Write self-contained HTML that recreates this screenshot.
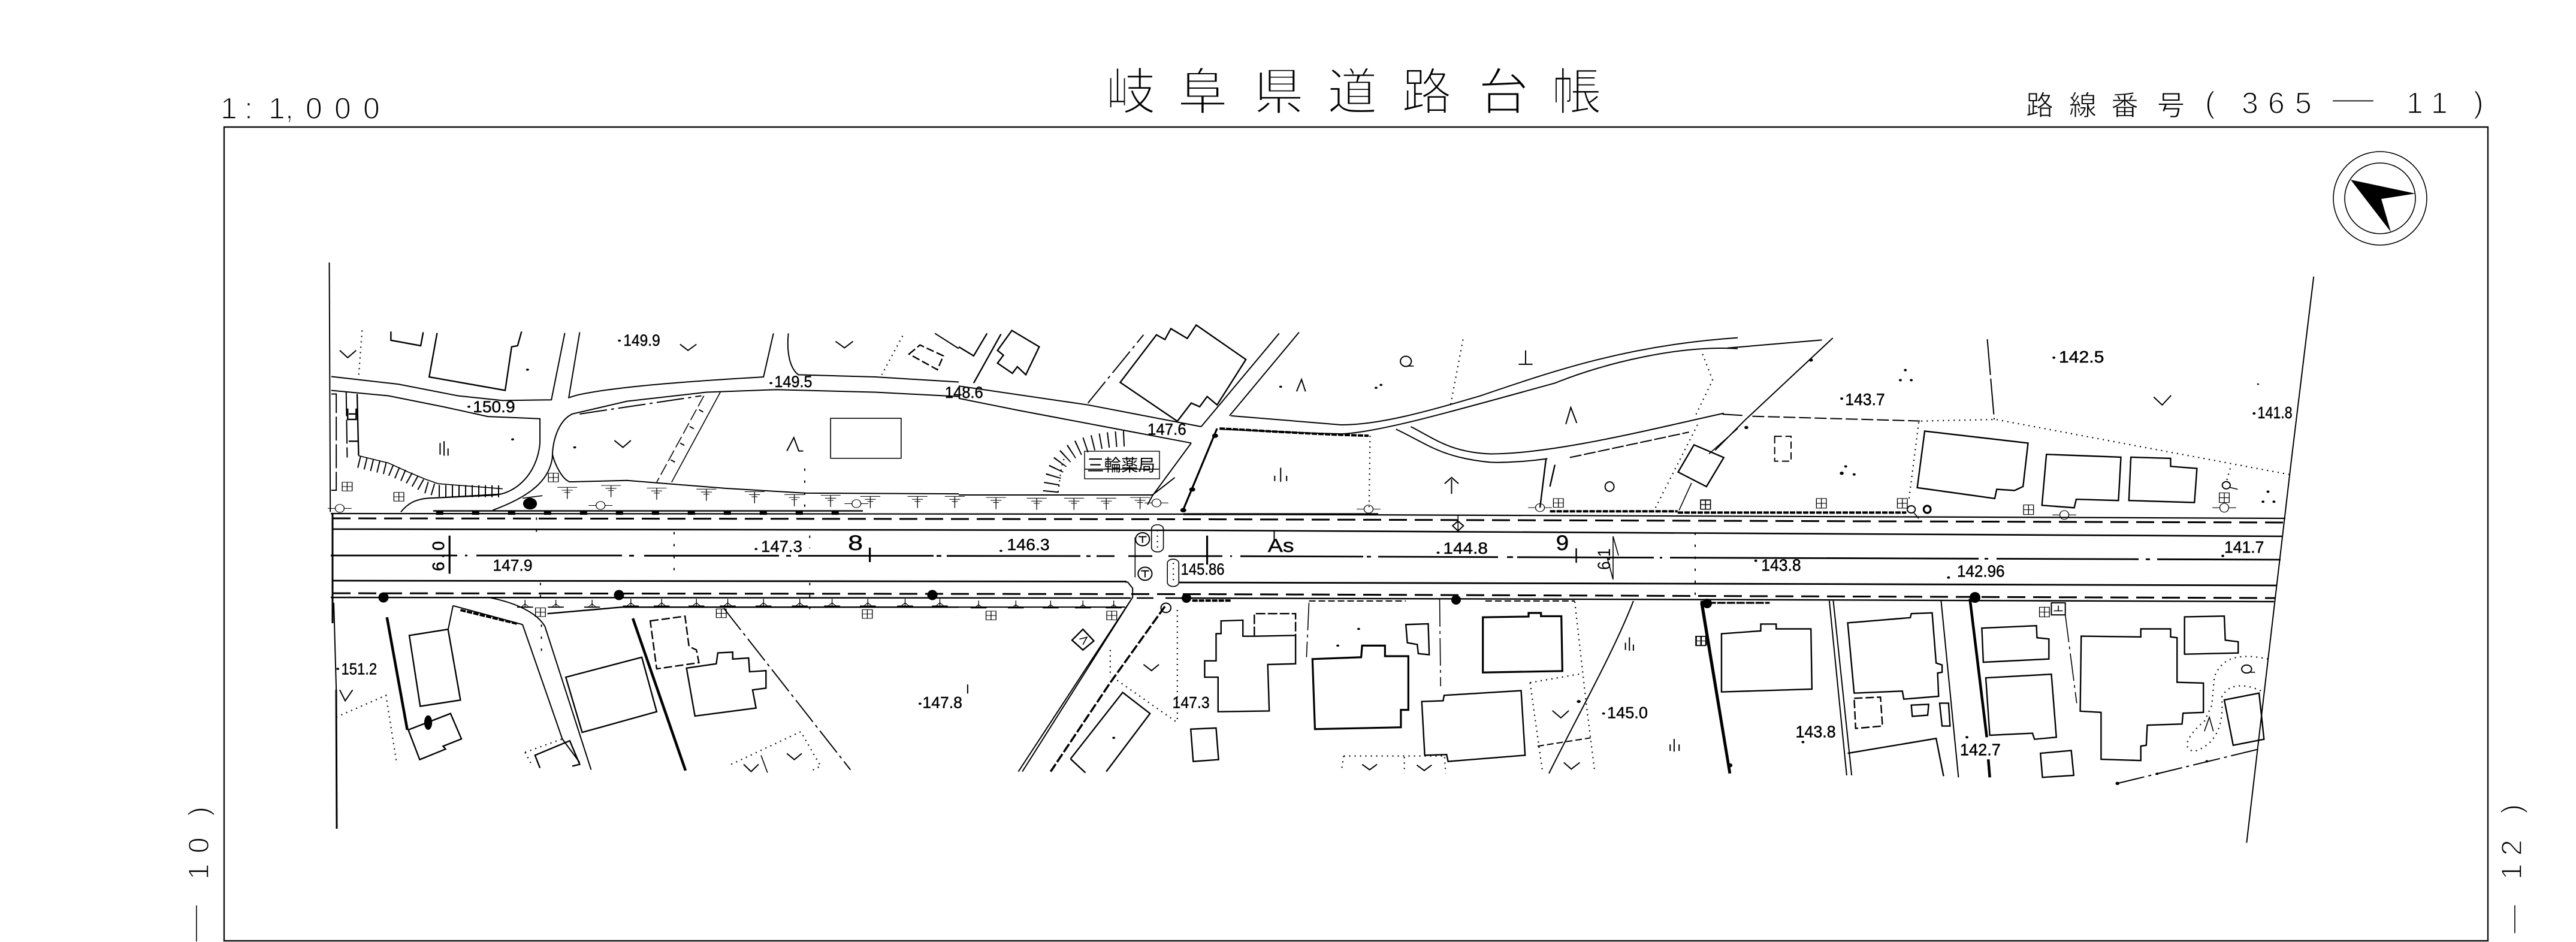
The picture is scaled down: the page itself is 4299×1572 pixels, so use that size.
<!DOCTYPE html>
<html lang="ja"><head><meta charset="utf-8"><title>岐阜県道路台帳</title>
<style>
html,body{margin:0;padding:0;background:#fff;overflow:hidden}
svg{display:block}
.z *{vector-effect:non-scaling-stroke}
.z{fill:none;stroke:#000;stroke-width:1.6;stroke-linejoin:miter}
.m{stroke-width:2}.b{stroke-width:2.4}.h{stroke-width:3.2}.x{stroke-width:4.5}
.da{stroke-dasharray:20 6}.ds{stroke-dasharray:11 5}.do{stroke-dasharray:2 7;stroke-width:2.2}
.sp{stroke-dasharray:4 16;stroke-width:2}
.ld{stroke-dasharray:46 7 5 7}.sc{stroke-width:4;stroke-dasharray:9 2}
.ha{stroke-width:20;stroke-dasharray:2 9}
.dot{fill:#000;stroke:none}
.z text{vector-effect:none}
.n{font-family:"Liberation Sans",sans-serif;fill:#000;stroke:#000;stroke-width:.7;font-size:44px}
.n3{font-size:41px}
.c{font-family:"Liberation Sans","Noto Sans CJK JP",sans-serif;fill:#000;stroke:#fff}
.l{font-family:"Liberation Sans",sans-serif;fill:#000;stroke:#fff;stroke-width:1.6}
</style></head><body>
<svg xmlns="http://www.w3.org/2000/svg" width="4299" height="1572" viewBox="0 0 4299 1572">
<rect width="4299" height="1572" fill="#fff"/>
<defs>
<g id="s" fill="none" stroke="#000"><rect x="-10" y="-12" width="20" height="24"/><path d="M0-12V12M-10 0H10"/></g>
<g id="T" fill="none" stroke="#000"><path d="M-20-18H20M-11-10H11M-6-4H6M0-18V14"/></g>
<g id="B" fill="none" stroke="#000"><path d="M-16 6H16" stroke-width="3"/><path d="M-8 6L0-3 8 6M0-14V6"/></g>
<g id="O" fill="none" stroke="#000"><ellipse rx="9" ry="11"/><path d="M-24 0H-9M9 0H24"/></g>
</defs>

<!-- frame -->
<path d="M374 212H4152V1570H374Z" fill="none" stroke="#111" stroke-width="2.4"/>

<!-- titles -->
<text class="c" font-size="84" stroke-width="3" y="183" x="1845 1965 2092 2215 2339 2467 2589">岐阜県道路台帳</text>
<text class="l" font-size="50" y="198" x="368 408 448 476 510 558 606">1:1,000</text>
<text class="c" font-size="46" stroke-width="1" y="192" x="3381 3453 3523 3600">路線番号</text>
<text class="l" font-size="50" y="188" x="3680">(</text>
<text class="l" font-size="50" y="189" x="3741 3785 3830">365</text>
<text class="l" font-size="50" y="181" x="3892" textLength="70" lengthAdjust="spacingAndGlyphs">—</text>
<text class="l" font-size="50" y="189" x="4016 4057">11</text>
<text class="l" font-size="50" y="188" x="4128">)</text>

<g class="l" font-size="48">
<text transform="translate(348,1468) rotate(-90)">1</text>
<text transform="translate(348,1424) rotate(-90)">0</text>
<text transform="translate(348,1362) rotate(-90)">)</text>
<text transform="translate(340,1572) rotate(-90)" textLength="62" lengthAdjust="spacingAndGlyphs">—</text>
<text transform="translate(4208,1468) rotate(-90)">1</text>
<text transform="translate(4208,1428) rotate(-90)">2</text>
<text transform="translate(4208,1358) rotate(-90)">)</text>
<text transform="translate(4209,1558) rotate(-90)" textLength="48" lengthAdjust="spacingAndGlyphs">—</text>
</g>

<!-- compass -->
<circle cx="3972" cy="331" r="78" fill="none" stroke="#000" stroke-width="1.6"/>
<circle cx="3972" cy="331" r="59" fill="none" stroke="#000" stroke-width="1.6"/>
<path d="M3923 300L4031 323 3974 332 3990 387Z" fill="#000"/>

<!-- road main lines in page coords -->
<g fill="none" stroke="#000">
<path stroke-width="2.2" d="M552 857L2000 858 3814 865"/>
<path stroke-width="3" stroke-dasharray="30 13" d="M555 865L2000 866.5 3812 872"/>
<path stroke-width="2.6" d="M555 883L2000 885 3810 895"/>
<path stroke-width="2.8" d="M552 927H763M776 927H780M795 927H1038M1050 927.3H1058M1075 927.3H1300M1312 927.5H1320M1332 927.5H1558M1563 927.7H1571M1580 927.7L1803 927.9M1813 928H1820M1830 928H1860M1883 928H1923M1950 928H2040M2053 928.1H2056M2070 928.2L2275 928.9M2281 929H2288M2300 929L2500 929.7M2515 929.7H2525M2532 929.8L2760 930.5M2770 930.6H2774M2787 930.6L3302 932.3M3312 932.4H3318M3332 932.4L3569 933.2M3581 933.3H3588M3600 933.3L3806 934"/>
<path stroke-width="2.8" d="M555 969L1880 970.5M1968 972L3000 974.5 3800 977"/>
<path stroke-width="3" stroke-dasharray="30 13" d="M555 990L2000 991.5 3797 998"/>
<path stroke-width="2.4" d="M552 997L1887 998M1897 998H1925M1945 998L3000 1001 3795 1004"/>
<path stroke-width="3.2" d="M1975 858H2300"/>
</g>
<circle cx="640" cy="997" r="8.5"/><circle cx="1033" cy="993" r="8.5"/><circle cx="1556" cy="993" r="8.5"/><circle cx="1980" cy="998" r="8"/><circle cx="2430" cy="1001" r="8"/><circle cx="2849" cy="1007" r="8"/><circle cx="3296" cy="997" r="9"/>

<!-- page-level labels -->
<rect x="1810" y="753" width="125" height="46" fill="#fff" stroke="#000" stroke-width="1.4"/>
<text font-family="'Liberation Sans','Noto Sans CJK JP',sans-serif" font-size="28" x="1814" y="786" textLength="114" lengthAdjust="spacingAndGlyphs">三輪薬局</text>
<text font-family="'Liberation Sans',sans-serif" font-size="28" stroke="#000" stroke-width=".6" transform="translate(741,953) rotate(-90)" textLength="50" lengthAdjust="spacing">6.0</text>
<text font-family="'Liberation Sans',sans-serif" font-size="30" transform="translate(2687,951) rotate(-90)" textLength="36" lengthAdjust="spacingAndGlyphs">6.1</text>
<path d="M2692 895V967M2692 895L2701 927M2682 930L2692 967" stroke="#000" stroke-width="1.6" fill="none"/>
<path d="M555 857V1040M561 1151L562 1383" stroke="#000" stroke-width="3" fill="none"/>

<!-- ZONE 1 -->
<g class="z" transform="translate(300,400) scale(.8291,.6059)">
<path class="m" d="M301 63L303 750M310 1000L315 1240"/>
<!-- side roads -->
<path class="m" d="M305 377L440 398 560 430 650 443 748 441 775 257M805 255L783 435 800 428C860 410 960 395 1175 378L1195 258M1225 258C1222 300 1225 350 1245 372L1400 378 1568 392"/>
<path class="m" d="M305 415L420 430 530 460 620 487 725 493 725 560C720 640 680 700 630 704L500 712C475 715 460 725 445 750"/>
<path class="m" d="M1568 432L1400 420 1200 413 1060 420 900 445 790 480C760 500 750 560 750 600C745 650 720 700 630 745"/>
<path class="m" d="M750 590C755 620 770 660 785 667L900 663 1100 685 1260 698 1568 700"/>
<path class="ld m" d="M805 480L1050 430"/>
<path d="M1088 420L990 668"/><path class="da" d="M1055 430L960 668"/>
<path class="ds" style="stroke-width:8;stroke-dasharray:2 30" d="M1050 470L980 640"/>
<!-- top buildings -->
<path class="b" d="M425 253V277L485 292 490 255M518 257L502 378 655 415 668 295 680 292 688 253"/>
<path class="do" d="M367 250L360 378M1455 265L1413 372"/>
<path class="m" d="M322 305L338 325 355 305M1007 288L1023 305 1040 288M1320 280L1338 298 1355 280M875 553L892 572 908 553"/>
<rect x="1310" y="492" width="142" height="110"/>
<path class="m" style="stroke-dasharray:40 6" d="M305 425H315V690H305M335 420L337 600"/>
<path class="b" d="M357 425L360 595M338 465V495H355V465M340 480H355M340 555H358"/>
<path class="ha" d="M360 612L420 632 460 655 495 682 520 692 650 693"/>
<path d="M360 595L420 615 460 640 495 660 520 672 650 686M500 712L650 700"/>
<use href="#s" x="337" y="680"/><use href="#s" x="441" y="708"/><use href="#s" x="752" y="655"/><use href="#s" x="726" y="1026"/><use href="#s" x="1090" y="1029"/><use href="#s" x="1384" y="1031"/>
<use href="#T" x="780" y="700"/><use href="#T" x="868" y="695"/><use href="#T" x="960" y="702"/><use href="#T" x="1060" y="705"/><use href="#T" x="1157" y="712"/><use href="#T" x="1237" y="720"/><use href="#T" x="1310" y="722"/><use href="#T" x="1390" y="725"/><use href="#T" x="1485" y="725"/><use href="#T" x="1560" y="725"/>
<path class="b" d="M510 747H1375"/>
<path style="stroke-width:7;stroke-dasharray:12 48" d="M516 752H1375"/>
<use href="#O" x="322" y="740"/><use href="#O" x="847" y="732"/><use href="#O" x="1362" y="727"/>
<ellipse class="dot" cx="705" cy="727" rx="14" ry="16"/><path d="M690 712L730 705"/>
<path class="sp" d="M1258 630V760M718 765V810M995 805V930M726 945V1010M1268 815V850M1268 945V1030M728 1060V1150"/>
<!-- lower left -->
<path class="m" d="M620 985C680 1000 720 1030 735 1065L828 1460M690 1060L770 1375 805 1440"/>
<path class="m" d="M550 1008L690 1060M540 1075L550 1008"/>
<path class="sc" d="M565 1020L680 1058"/>
<path class="b" d="M740 1030L890 1012H1568"/>
<use href="#B" x="695" y="1006"/><use href="#B" x="757" y="1006"/><use href="#B" x="830" y="1006"/><use href="#B" x="908" y="1003"/><use href="#B" x="970" y="1003"/><use href="#B" x="1040" y="1003"/><use href="#B" x="1103" y="1003"/><use href="#B" x="1175" y="1003"/><use href="#B" x="1248" y="1003"/><use href="#B" x="1313" y="1003"/><use href="#B" x="1385" y="1003"/><use href="#B" x="1460" y="1003"/><use href="#B" x="1530" y="1003"/>
<path class="b" d="M462 1090L540 1073 565 1268 484 1285Z"/>
<path class="x" d="M417 1040L458 1350"/>
<path class="b" d="M460 1350L545 1305 567 1375 530 1395 535 1403 483 1432Z"/>
<ellipse class="dot" cx="500" cy="1330" rx="8" ry="20"/>
<path class="do" d="M315 1315L415 1255 437 1445M695 1412L770 1375M695 1412L710 1450M1110 1445L1250 1355 1290 1450 1268 1465"/>
<path class="m" d="M322 1240L333 1270 348 1240"/>
<path class="b" d="M777 1205L930 1150 960 1300 810 1357Z"/>
<path class="x" d="M912 1043L1018 1462"/>
<path class="b da" d="M947 1050L1017 1037 1025 1120 1040 1130 1045 1165 960 1182Z" style="stroke-dasharray:14 5"/>
<path class="b" d="M1020 1180L1080 1168 1083 1138 1113 1136 1113 1155 1145 1152 1147 1190 1180 1187 1180 1235 1153 1240 1160 1290 1037 1312Z"/>
<path class="ld m" d="M1095 1015L1350 1460"/>
<path d="M1170 1420L1183 1468"/>
<path class="m" d="M1135 1445L1150 1465 1165 1445M1222 1415L1237 1432 1252 1415"/>
<path class="b" d="M725 1455L715 1420 785 1380 805 1445 790 1450"/>
<path class="m" d="M524 560V592M532 555V595M540 575V595M1222 582L1236 545 1246 582H1255"/>
<path class="m" d="M1520 258L1568 300"/>
<path class="b" style="stroke-dasharray:13 5" d="M1468 315L1490 290 1537 320 1525 358Z"/>
<path class="h" d="M543 815V920"/>
<path class="h" d="M1389 848V888"/>
<text class="n" x="893" y="292" textLength="74" lengthAdjust="spacingAndGlyphs">149.9</text>
<text class="n" x="590" y="475" textLength="85" lengthAdjust="spacingAndGlyphs">150.9</text>
<text class="n" x="1197" y="406" textLength="76" lengthAdjust="spacingAndGlyphs">149.5</text>
<text class="n" x="1540" y="436" textLength="77" lengthAdjust="spacingAndGlyphs">148.6</text>
<text class="n" x="1170" y="860" textLength="83" lengthAdjust="spacingAndGlyphs">147.3</text>
<text class="n" x="630" y="912" textLength="80" lengthAdjust="spacingAndGlyphs">147.9</text>
<text class="n" x="325" y="1197" textLength="72" lengthAdjust="spacingAndGlyphs">151.2</text>
<text class="n" x="1495" y="1290" textLength="80" lengthAdjust="spacingAndGlyphs">147.8</text>
<text class="n" style="font-size:58px" x="1345" y="855" textLength="30" lengthAdjust="spacingAndGlyphs">8</text>
<g class="dot"><circle cx="885" cy="278" r="3"/><circle cx="582" cy="460" r="3"/><circle cx="1190" cy="395" r="3"/><circle cx="1160" cy="852" r="3"/><circle cx="795" cy="572" r="3"/><circle cx="670" cy="550" r="3"/><circle cx="318" cy="1182" r="3"/><circle cx="1490" cy="1278" r="3"/><circle cx="700" cy="358" r="3"/></g>
</g>

<!-- ZONE 2 -->
<g class="z" transform="translate(1600,400) scale(.8291,.6059)">
<path class="m" d="M335 943H340L350 960V985L120 1465M350 985L128 1465"/>
<!-- intersect road -->
<path class="m" d="M468 560L390 705 380 730M645 258L488 515M685 255L545 485M0 403L260 455 488 515M0 437L120 470 468 560"/>
<path class="h" d="M520 520L450 750"/>
<circle class="dot" cx="470" cy="688" r="6"/><circle class="dot" cx="452" cy="745" r="6"/><circle class="dot" cx="516" cy="540" r="6"/>
<path class="b" d="M478 235L578 330 520 455 500 432 485 460 468 450 440 500 325 393 398 262 415 275 427 245 460 272Z"/>
<path class="ld m" d="M260 450L372 262"/>
<path class="b" d="M107 250L162 295 135 372 118 350 108 368 78 340 90 318 78 305Z"/>
<path class="b" d="M85 260L30 395M57 258L30 320 0 295"/>
<path class="ha" style="stroke-width:26;stroke-dasharray:2 11" d="M185 695C190 620 210 555 335 548"/>
<path class="do" d="M200 695C205 650 205 620 215 595"/>
<path d="M253 632H403"/>
<path class="m" d="M0 703H390L435 655"/>
<use href="#T" x="75" y="728"/><use href="#T" x="157" y="730"/><use href="#T" x="232" y="730"/><use href="#T" x="297" y="730"/><use href="#T" x="365" y="728"/>
<use href="#O" x="398" y="725"/><use href="#O" x="825" y="742"/><use href="#O" x="1170" y="738"/>
<path class="m" d="M636 650V665M648 628V667M660 650V665M680 418L690 385 698 418M1127 343H1155M1141 305V343M1222 508L1232 462 1244 505M978 672L992 655 1006 672M992 660V700"/>
<ellipse class="m" cx="900" cy="335" rx="11" ry="14"/><path d="M905 348H916"/>
<ellipse class="m" cx="1310" cy="680" rx="9" ry="13"/>
<path class="do" d="M1015 275L990 455M828 540L826 740M1487 510L1450 610 1400 745"/>
<path class="m" d="M548 485L770 510C850 510 950 470 1050 430C1200 360 1350 290 1568 270M525 522L700 532 770 535C850 530 1000 470 1200 395C1300 340 1450 290 1568 300"/>
<path class="m" d="M910 515C960 550 990 585 1070 590C1200 590 1400 520 1540 478M880 522C940 560 970 600 1070 613C1100 615 1150 610 1185 603"/>
<path class="sc" d="M525 520C600 525 700 535 825 540"/>
<path class="b" d="M1182 605L1170 738M1200 620L1190 680"/>
<path class="m" style="stroke-dasharray:20 4" d="M1230 600L1470 530"/>
<path class="b" d="M1480 565L1540 600 1505 680 1448 640Z"/>
<path d="M1568 520L1510 590M1475 670L1450 745"/>
<path class="sc" d="M1190 748H1447"/>
<use href="#s" x="1207" y="725"/><use href="#s" x="1503" y="730"/><use href="#s" x="65" y="1035"/><use href="#s" x="308" y="1035"/><use href="#s" x="1495" y="1105"/>
<ellipse class="m" cx="370" cy="825" rx="14" ry="18"/><path class="m" d="M362 818H378M370 818V835"/>
<ellipse class="m" cx="375" cy="920" rx="14" ry="18"/><path class="m" d="M367 912H383M375 912V930"/>
<path d="M355 820V930"/>
<rect x="388" y="785" width="24" height="75" rx="12"/><rect x="420" y="880" width="23" height="75" rx="11"/>
<path class="do" d="M400 800V850M432 890V945"/>
<path class="h" d="M500 815V895"/><path class="m" d="M635 800V830"/>
<path class="b" d="M1243 850V890"/>
<path class="m" d="M1005 775L1016 788 1005 802 994 788Z"/>
<path d="M1005 760V802"/>
<path class="sc" d="M470 994H548"/>
<ellipse class="m" cx="417" cy="1014" rx="10" ry="13"/>
<!-- lower buildings -->
<path class="b" d="M528 1050L572 1048V1092H595L678 1090V1168L622 1170 625 1298 522 1300V1205H495V1160H518V1085H528Z"/>
<path class="b" style="stroke-dasharray:16 4" d="M595 1092V1030H678V1090"/>
<path class="h" d="M712 1155L810 1150 812 1118H858V1147H905V1295H890V1343L717 1348Z"/>
<path class="b" d="M900 1060L945 1058 947 1143 925 1140 923 1115 903 1110Z"/>
<path class="h" d="M1055 1040L1147 1038V1028H1172V1037L1213 1037 1215 1188 1055 1192Z"/>
<path class="b" d="M932 1272L975 1270 977 1255 1132 1242 1140 1420 985 1437 982 1418 938 1420Z"/>
<path class="b" d="M467 1348L518 1345 523 1432 472 1437Z"/>
<path class="b" d="M225 1430L330 1247 385 1305 297 1465M225 1430L255 1468"/>
<path class="b" d="M228 1103L250 1073 272 1105 250 1130Z"/><path d="M243 1100L258 1095 250 1115"/>
<path class="ld" d="M705 1000L700 1150M968 990L970 1230"/>
<path class="ds m" d="M705 995H900M1060 995H1240M1165 1395L1272 1372"/>
<path class="do" d="M1240 997L1262 1265 1280 1465M1150 1220L1255 1195M1150 1220L1175 1465M440 1020V1330M310 1205L440 1330M305 1130V1205M775 1422H975M775 1422L770 1465M897 1425V1470M978 1425L980 1470"/>
<path class="m" d="M1358 995C1320 1130 1250 1300 1188 1470"/>
<path class="m" d="M372 1170L388 1187 403 1170M1195 1297L1212 1317 1228 1297M812 1445L827 1460 842 1445M922 1447L937 1462 952 1447M1218 1440L1233 1458 1250 1440"/>
<path class="x" d="M1495 1000L1552 1470"/>
<path class="m" d="M1342 1110V1130M1350 1095V1132M1358 1115V1132M1432 1390V1408M1440 1375V1410M1450 1390V1408M18 1225V1250"/>
<path class="sc" style="stroke-width:3.5;stroke-dasharray:16 4" d="M415 1010L305 1220 185 1465"/>
<use href="#B" x="40" y="1008"/><use href="#B" x="115" y="1008"/><use href="#B" x="185" y="1008"/><use href="#B" x="250" y="1008"/><use href="#B" x="312" y="1008"/>
<path class="m" d="M0 1012H335"/>
<text class="n" x="97" y="855" textLength="86" lengthAdjust="spacingAndGlyphs">146.3</text>
<text class="n" x="975" y="865" textLength="90" lengthAdjust="spacingAndGlyphs">144.8</text>
<text class="n" x="447" y="923" textLength="88" lengthAdjust="spacingAndGlyphs">145.86</text>
<text class="n" x="380" y="537" textLength="78" lengthAdjust="spacingAndGlyphs">147.6</text>
<text class="n" x="430" y="1290" textLength="75" lengthAdjust="spacingAndGlyphs">147.3</text>
<text class="n" x="1305" y="1318" textLength="82" lengthAdjust="spacingAndGlyphs">145.0</text>
<text class="n" style="font-size:52px" x="622" y="860" textLength="53" lengthAdjust="spacingAndGlyphs">As</text>
<text class="n" style="font-size:58px" x="1202" y="855" textLength="26" lengthAdjust="spacingAndGlyphs">9</text>
<g class="dot"><circle cx="648" cy="405" r="3"/><circle cx="850" cy="400" r="3"/><circle cx="840" cy="408" r="3"/><circle cx="85" cy="857" r="3"/><circle cx="965" cy="862" r="3"/><circle cx="1298" cy="1305" r="3"/><circle cx="805" cy="1072" r="3"/><circle cx="763" cy="1118" r="3"/><circle cx="312" cy="1372" r="3"/><circle cx="1248" cy="1272" r="4"/></g>
</g>

<!-- ZONE 3 -->
<g class="z" transform="translate(2800,400) scale(.8291,.6696)">
<path class="m" d="M1280 92L1235 550 1145 1503"/>
<!-- labels -->
<text class="n n3" x="767" y="306" textLength="91" lengthAdjust="spacingAndGlyphs">142.5</text>
<text class="n n3" x="337" y="412" textLength="80" lengthAdjust="spacingAndGlyphs">143.7</text>
<text class="n n3" x="1167" y="445" textLength="70" lengthAdjust="spacingAndGlyphs">141.8</text>
<text class="n n3" x="1100" y="780" textLength="80" lengthAdjust="spacingAndGlyphs">141.7</text>
<text class="n n3" x="168" y="825" textLength="80" lengthAdjust="spacingAndGlyphs">143.8</text>
<text class="n n3" x="562" y="840" textLength="96" lengthAdjust="spacingAndGlyphs">142.96</text>
<text class="n n3" x="237" y="1240" textLength="81" lengthAdjust="spacingAndGlyphs">143.8</text>
<text class="n n3" x="568" y="1285" textLength="82" lengthAdjust="spacingAndGlyphs">142.7</text>
<!-- top -->
<path class="m" d="M100 270L290 250M312 245L135 450 75 525M90 435L130 438"/>
<path class="da m" d="M150 440L490 452"/>
<path class="ld m" d="M623 248L637 448" style="stroke-dasharray:60 6"/>
<path class="do" d="M490 452L640 448 1230 585M50 285L70 350 35 440M485 455L465 650M1112 570L1105 600"/>
<path class="m" style="stroke-dasharray:12 6" d="M195 490H228V552H195Z"/>
<path class="b" d="M497 477L705 507 695 615 678 625 642 622 638 645 482 618Z"/>
<path class="b" d="M742 535L892 542 887 650 802 647 798 668 733 662Z"/>
<path class="b" d="M912 542L992 545V565L1045 570 1040 655 908 650Z"/>
<path class="sc" d="M0 680H460"/>
<use href="#s" x="56" y="660"/><use href="#s" x="289" y="657"/><use href="#s" x="452" y="657"/><use href="#s" x="706" y="673"/><use href="#s" x="1100" y="643"/><use href="#s" x="738" y="928"/><use href="#s" x="46" y="1000"/>
<use href="#O" x="1100" y="668"/><use href="#O" x="778" y="686"/>
<ellipse class="m" cx="470" cy="672" rx="8" ry="9"/><path d="M475 680L485 695"/>
<ellipse class="h" cx="502" cy="672" rx="7" ry="9"/>
<ellipse class="m" cx="1104" cy="612" rx="8" ry="9"/><path d="M1110 617L1127 622"/>
<path class="m" d="M958 392L975 412 993 388"/>
<!-- lower -->
<path class="x" d="M48 900L105 1330"/>
<path class="h" style="stroke-dasharray:14 2" d="M60 905H185"/>
<path class="sp" d="M35 730V900"/>
<path class="b" d="M88 982L167 975V958H198V970H268L270 1120 88 1127Z"/>
<path class="m" d="M305 900L340 1335M313 900L350 1335"/>
<path class="b" d="M342 955L468 942 470 932 512 930 520 1055 532 1060V1078L523 1080 525 1138 455 1145 452 1125 355 1130Z"/>
<path class="m" d="M530 900L565 1340"/>
<path class="b" style="stroke-dasharray:14 5" d="M355 1143L408 1140 412 1212 358 1218Z"/>
<path class="b" d="M470 1160L505 1158 503 1185 472 1188ZM527 1155H545L548 1212H532Z"/>
<path class="b" d="M342 1280L520 1243 535 1337"/>
<path class="x" d="M588 895L622 1240M625 1295L628 1340"/>
<path class="b" d="M612 968L722 962 723 992 747 995V1045L615 1053Z"/>
<path class="b" d="M620 1092L752 1083 762 1240 718 1245 714 1230 628 1235Z"/>
<path class="b" d="M812 988L932 990V970H992V990L1005 992V1103L1058 1105V1178L1017 1180 1015 1207 945 1210 943 1260 932 1262V1298L852 1295V1178L810 1175Z"/>
<path class="b" d="M1020 940L1100 938 1102 998 1128 1002V1030L1020 1033Z"/>
<path class="b" d="M730 1280L792 1273 797 1335 734 1340Z"/>
<path class="b" d="M1100 1147L1170 1130 1180 1245 1118 1260Z"/>
<path class="do" d="M1188 1045C1130 1030 1095 1040 1080 1090L1075 1160 1060 1200C1030 1230 1010 1270 1040 1275C1080 1260 1100 1215 1095 1140C1110 1100 1150 1110 1175 1125"/>
<path class="ld m" d="M885 1355L1168 1270"/>
<circle class="dot" cx="885" cy="1355" r="4"/><circle class="dot" cx="965" cy="1331" r="3"/><circle class="dot" cx="1065" cy="1300" r="3"/>
<path class="ld" d="M780 935L803 1155"/>
<rect x="752" y="905" width="28" height="30" class="m"/><path d="M757 925H775M766 912V925"/>
<ellipse class="m" cx="1145" cy="1070" rx="10" ry="10"/><path d="M1150 1078H1162"/>
<path d="M1060 1225L1070 1190 1078 1225"/>
<g class="dot"><circle cx="458" cy="325" r="3"/><circle cx="448" cy="350" r="3"/><circle cx="470" cy="350" r="3"/><circle cx="268" cy="300" r="4"/><circle cx="138" cy="468" r="4"/><circle cx="338" cy="565" r="3"/><circle cx="330" cy="582" r="4"/><circle cx="355" cy="585" r="3"/><circle cx="1188" cy="628" r="3"/><circle cx="1178" cy="653" r="3"/><circle cx="1200" cy="653" r="3"/><circle cx="1168" cy="360" r="2"/><circle cx="105" cy="1310" r="5"/><circle cx="157" cy="800" r="3"/><circle cx="545" cy="842" r="3"/><circle cx="757" cy="294" r="3"/><circle cx="330" cy="396" r="3"/><circle cx="1160" cy="433" r="3"/><circle cx="1097" cy="788" r="3"/><circle cx="252" cy="1252" r="3"/><circle cx="582" cy="1240" r="3"/></g>
</g>
</svg>
</body></html>
